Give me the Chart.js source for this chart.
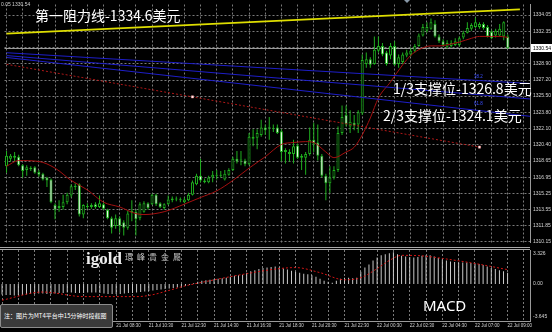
<!DOCTYPE html>
<html>
<head>
<meta charset="utf-8">
<script src="https://cdn.jsdelivr.net/npm/chart.js@4.4.1/dist/chart.umd.min.js"></script>
<style>
html, body { margin: 0; padding: 0; background: #000; }
#wrap { position: relative; width: 552px; height: 332px; overflow: hidden; background: #000; }
canvas { position: absolute; left: 0; }
#main { top: 0; }
#macd { top: 250px; }
.sep { position: absolute; left: 0; width: 530px; height: 1px; background: #a8a8a8; }
.txt { position: absolute; color: #fff; white-space: nowrap; font-family: 'Noto Sans CJK SC', 'Noto Sans', sans-serif; line-height: 1; }
.big { font-size: 14px; }
#note { position: absolute; left: 0; top: 304px; width: 108px; height: 22px; background: #3a3a3a; border: 1px solid #8c8c8c; border-radius: 2px;
        color: #fff; font: 6px 'Noto Sans CJK SC', sans-serif; line-height: 22px; padding-left: 3px; box-sizing: content-box; white-space: nowrap; }
#shift { position: absolute; left: 404px; top: 0; width: 0; height: 0; border-left: 3px solid transparent; border-right: 3px solid transparent; border-top: 3px solid #8898a8; }
</style>
</head>
<body>
<div id="wrap">
  <canvas id="main" width="552" height="247"></canvas>
  <div class="sep" style="top:247px"></div>
  <div class="sep" style="top:249px"></div>
  <canvas id="macd" width="552" height="82"></canvas>

  <div id="shift"></div>
  <div class="txt" style="left:1px;top:1px;font:5px 'Liberation Sans';color:#d0d0d0">0.05 1330.54</div>
  <div class="txt big" style="left:35px;top:8px">第一阻力线-1334.6美元</div>
  <div class="txt big" style="left:393px;top:81px">1/3支撑位-1326.8美元</div>
  <div class="txt big" style="left:383px;top:108px">2/3支撑位-1324.1美元</div>
  <div class="txt" style="left:474px;top:74px;font:4.5px 'Liberation Sans';color:#3a4cff">38.2</div>
  <div class="txt" style="left:474px;top:101px;font:4.5px 'Liberation Sans';color:#3a4cff">61.8</div>
  <div class="txt" style="left:86px;top:249px;font:bold 17px 'Liberation Serif';color:#eeeeee">igold</div>
  <div class="txt" style="left:125px;top:253px;font-size:8px;color:#c4c4c4;letter-spacing:4px;font-family:'Noto Sans CJK TC'">環峰貴金屬</div>
  <div class="txt" style="left:423px;top:298px;font-size:15px;font-family:'Noto Sans'">MACD</div>
  <div id="note">注：图片为MT4平台中15分钟时段截图</div>
</div>

<script>
// time axis, one label every 8 bars (2 hours), first at bar 4
const timeLabels = ['21 Jul 02:30', '21 Jul 04:30', '21 Jul 06:30', '21 Jul 08:30', '21 Jul 10:30', '21 Jul 12:30',
  '21 Jul 14:30', '21 Jul 16:30', '21 Jul 18:30', '21 Jul 20:30', '21 Jul 22:30', '22 Jul 00:30',
  '22 Jul 02:30', '22 Jul 04:30', '22 Jul 07:00', '22 Jul 09:00'];

const priceTicks = [1310.15, 1311.85, 1313.55, 1315.25, 1316.95, 1318.65, 1320.40, 1322.10,
  1323.80, 1325.50, 1327.20, 1328.90, 1330.65, 1332.35, 1334.05];
const bid = 1330.54;

// 15 min candles
const open = [1318.1,1318.9,1319.0,1319.1,1318.2,1317.7,1317.8,1318.0,1317.5,1317.3,
  1316.9,1316.7,1314.0,1313.7,1313.8,1314.3,1315.0,1315.9,1316.2,1313.0,
  1313.8,1313.8,1314.1,1313.8,1314.1,1313.5,1312.6,1311.8,1312.6,1312.2,
  1311.6,1313.2,1313.3,1312.6,1313.3,1314.2,1314.1,1315.1,1314.2,1313.7,
  1314.1,1314.5,1314.6,1314.6,1314.3,1314.5,1315.1,1316.2,1317.1,1316.6,
  1316.4,1316.9,1317.1,1317.2,1316.7,1317.2,1317.7,1318.9,1318.8,1318.7,
  1318.3,1321.2,1321.1,1321.4,1322.2,1322.1,1322.1,1322.2,1321.8,1319.6,
  1319.6,1319.4,1320.3,1319.0,1319.0,1319.4,1320.9,1320.6,1319.2,1317.1,
  1316.3,1316.9,1317.7,1321.6,1323.5,1322.3,1322.7,1322.5,1323.7,1328.9,
  1329.4,1328.9,1330.3,1330.8,1330.1,1329.8,1330.8,1328.9,1329.1,1329.8,
  1329.9,1330.3,1330.8,1331.9,1332.4,1332.6,1333.1,1331.8,1331.3,1330.7,
  1330.8,1330.9,1330.9,1331.7,1332.2,1332.6,1332.8,1332.8,1333.1,1332.8,
  1332.3,1331.9,1331.9,1331.8,1331.8];
const close = [1319.2,1319.2,1319.2,1318.2,1317.6,1318.0,1317.9,1317.4,1317.2,1316.7,
  1316.6,1314.3,1313.5,1313.9,1314.3,1315.1,1316.0,1316.0,1313.0,1314.0,
  1313.9,1314.0,1313.8,1314.2,1313.6,1312.6,1311.6,1312.6,1311.8,1311.6,
  1313.1,1313.4,1312.5,1314.1,1314.2,1313.7,1315.1,1314.1,1313.8,1314.1,
  1314.6,1314.7,1314.7,1314.5,1314.6,1315.1,1316.4,1317.1,1316.6,1316.4,
  1316.9,1317.2,1317.2,1317.1,1317.3,1317.7,1318.9,1318.6,1318.7,1318.3,
  1321.2,1321.0,1321.6,1322.2,1321.9,1322.2,1322.0,1321.6,1319.6,1319.8,
  1319.4,1320.2,1319.0,1319.2,1319.4,1320.9,1320.5,1319.2,1317.1,1316.3,
  1316.9,1317.7,1321.6,1323.3,1322.5,1322.8,1322.4,1323.8,1329.3,1329.4,
  1328.8,1330.4,1330.8,1329.9,1328.9,1330.8,1328.8,1329.6,1329.9,1330.1,
  1330.3,1330.8,1331.9,1332.8,1332.8,1333.3,1331.8,1331.3,1330.9,1331.1,
  1331.1,1331.3,1331.6,1332.2,1332.7,1333.0,1333.3,1333.1,1332.7,1331.8,
  1331.6,1332.4,1332.6,1333.3,1330.54];
const high = [1319.7,1319.4,1319.6,1319.3,1318.3,1318.2,1318.1,1318.1,1317.7,1317.4,
  1317.0,1316.8,1314.2,1314.5,1315.1,1315.3,1316.2,1316.3,1316.3,1314.1,
  1314.2,1314.2,1314.3,1315.0,1314.3,1313.6,1312.8,1313.0,1312.8,1312.4,
  1313.4,1314.5,1313.5,1314.3,1314.4,1314.3,1315.2,1315.2,1314.3,1314.2,
  1315.0,1314.9,1314.9,1314.8,1314.8,1315.3,1316.6,1317.3,1318.9,1316.8,
  1317.1,1317.6,1317.7,1317.6,1317.7,1317.9,1319.1,1319.7,1319.7,1318.9,
  1321.6,1322.0,1322.0,1323.0,1322.5,1323.3,1322.5,1322.5,1322.0,1320.0,
  1319.9,1320.9,1320.5,1319.4,1319.6,1322.2,1322.7,1322.5,1319.4,1317.3,
  1318.1,1318.1,1322.3,1324.5,1324.5,1324.0,1323.5,1324.0,1329.9,1330.1,
  1329.6,1331.8,1331.8,1331.1,1330.3,1331.1,1331.3,1329.9,1330.1,1330.4,
  1330.6,1331.0,1332.1,1333.1,1333.3,1333.7,1333.5,1332.0,1331.5,1331.4,
  1331.4,1331.6,1331.8,1332.4,1333.3,1333.2,1333.8,1333.3,1333.3,1333.0,
  1332.5,1332.6,1333.1,1333.4,1332.0];
const low = [1317.4,1318.6,1318.6,1318.1,1316.9,1317.1,1317.6,1317.3,1317.0,1316.6,
  1315.9,1314.2,1312.5,1313.3,1313.5,1314.1,1314.8,1315.6,1312.8,1312.6,
  1313.6,1313.6,1313.6,1313.7,1313.5,1312.5,1311.0,1311.5,1311.1,1310.8,
  1311.4,1312.3,1310.8,1312.4,1313.2,1313.5,1314.0,1313.9,1313.7,1313.5,
  1314.0,1314.3,1314.4,1314.3,1314.2,1314.4,1315.0,1316.1,1316.4,1316.3,
  1316.3,1316.4,1316.7,1316.9,1316.6,1317.1,1317.6,1318.4,1318.2,1318.1,
  1318.2,1320.2,1319.9,1321.2,1321.4,1320.9,1321.7,1321.5,1318.6,1318.4,
  1318.6,1318.4,1318.9,1317.7,1317.2,1319.2,1319.6,1318.7,1316.9,1314.5,
  1315.3,1316.7,1317.5,1321.4,1322.3,1321.6,1321.9,1321.6,1323.5,1328.5,
  1328.5,1328.8,1330.1,1329.7,1328.7,1329.4,1328.7,1328.5,1328.9,1329.6,
  1329.7,1330.1,1330.7,1331.8,1332.2,1332.5,1331.7,1331.1,1330.7,1330.5,
  1330.6,1330.8,1330.7,1331.5,1332.1,1332.4,1332.7,1332.6,1332.5,1331.7,
  1331.5,1331.7,1331.8,1331.4,1330.5];

// moving average read at some bars
const maIdx = [0,3,8,12,16,20,24,28,32,34,39,44,48,52,56,60,64,68,71,74,
  76,79,81,84,86,88,90,92,95,98,100,102,105,107,110,112,115,117,120,122,124];
const maVal = [1318.1,1318.7,1318.6,1317.9,1316.6,1315.6,1314.3,1313.8,1313.1,1313.0,
  1313.3,1314.1,1314.8,1315.5,1316.6,1317.9,1319.1,1320.4,1320.6,1320.7,
  1320.6,1319.6,1319.0,1319.6,1320.1,1321.4,1323.2,1325.3,1327.0,1328.8,
  1329.8,1330.4,1330.8,1330.8,1331.0,1331.2,1331.6,1331.8,1331.8,1331.8,1331.7];

// drawn lines (bar index, price)
const resistIdx = [0, 127], resistVal = [1332.1, 1334.66];
const fanIdx = [0, 129.5];
const fan1 = [1330.08, 1326.83], fan2 = [1329.78, 1325.20], fan3 = [1329.58, 1323.37];
const trendIdx = [0, 46, 117], trendVal = [1328.86, 1325.42, 1320.12];

// MACD
const macdHist = [-1.05,-1.1,-1.1,-1.15,-1.1,-1.1,-1.05,-1.0,-1.0,-0.95,
  -0.95,-1.0,-1.0,-0.95,-0.9,-0.9,-0.85,-0.85,-0.9,-0.9,
  -0.9,-0.85,-0.85,-0.85,-0.9,-0.95,-1.0,-1.0,-1.0,-1.0,
  -0.95,-0.9,-0.9,-0.85,-0.8,-0.75,-0.7,-0.65,-0.6,-0.55,
  -0.5,-0.45,-0.4,-0.35,-0.3,-0.2,-0.1,0.05,0.2,0.3,
  0.35,0.4,0.45,0.5,0.55,0.6,0.7,0.8,0.85,0.9,
  1.1,1.25,1.35,1.45,1.55,1.6,1.65,1.7,1.6,1.5,
  1.4,1.3,1.2,1.1,1.0,0.95,0.85,0.7,0.5,0.3,
  0.2,0.1,0.3,0.5,0.6,0.6,0.55,0.6,1.2,1.6,
  1.9,2.3,2.6,2.8,2.9,3.0,3.1,2.9,2.75,2.7,
  2.65,2.6,2.65,2.75,2.8,2.8,2.7,2.55,2.4,2.3,
  2.2,2.15,2.1,2.1,2.1,2.05,2.0,1.95,1.85,1.7,
  1.55,1.45,1.35,1.25,1.1];
const sigIdx = [0,10,20,33,46,60,68,72,78,84,88,92,95,98,103,108,116,124];
const sigVal = [-1.6,-0.8,-1.25,-1.25,-0.1,1.0,1.5,1.6,1.1,0.4,0.6,1.5,2.3,2.8,2.75,2.5,2.0,1.4];
const macdTicks = [3.326, 0, -3.645];

const green = '#1fb01f';
const gridCol = '#7a7a7a';
const gridIdx = [];
for (let i = 0; i <= 128; i += 4) gridIdx.push(i);

const pts = (xs, ys) => xs.map((x, i) => ({x, y: ys[i]}));

const xBase = {
  type: 'linear', min: -0.5, max: 129.5, offset: false,
  afterBuildTicks: s => { s.ticks = gridIdx.map(v => ({value: v})); },
  grid: {color: gridCol, offset: false, drawTicks: false},
  border: {display: false, dash: [2, 2]}
};

const bidPlugin = {
  id: 'bid',
  beforeDatasetsDraw(chart) {
    const {ctx, chartArea} = chart;
    const y = Math.round(chart.scales.y.getPixelForValue(bid)) + 0.5;
    ctx.save();
    ctx.strokeStyle = '#9a9a9a';
    ctx.lineWidth = 1;
    ctx.beginPath(); ctx.moveTo(chartArea.left, y); ctx.lineTo(chartArea.right, y); ctx.stroke();
    ctx.restore();
  },
  afterDraw(chart) {
    const {ctx, chartArea} = chart;
    const y = Math.round(chart.scales.y.getPixelForValue(bid));
    ctx.save();
    ctx.fillStyle = '#ffffff';
    ctx.fillRect(chartArea.right + 1, y - 4, 21, 8);
    ctx.fillStyle = '#000';
    ctx.font = '5px "Liberation Sans"';
    ctx.textBaseline = 'middle';
    ctx.fillText(bid.toFixed(2), chartArea.right + 3, y + 0.5);
    ctx.restore();
  }
};

new Chart(document.getElementById('main'), {
  type: 'bar',
  data: {
    datasets: [
      {type: 'line', data: pts(resistIdx, resistVal), borderColor: '#dede00', borderWidth: 1.6, pointRadius: 0, order: 0},
      {type: 'line', data: pts(fanIdx, fan1), borderColor: '#1e1ec8', borderWidth: 1, pointRadius: 0, order: 0},
      {type: 'line', data: pts(fanIdx, fan2), borderColor: '#1e1ec8', borderWidth: 1, pointRadius: 0, order: 0},
      {type: 'line', data: pts(fanIdx, fan3), borderColor: '#1e1ec8', borderWidth: 1, pointRadius: 0, order: 0},
      {type: 'line', data: pts(trendIdx, trendVal), borderColor: '#b01818', borderWidth: 1, borderDash: [2, 2],
        pointRadius: [0, 1.5, 1.5], pointStyle: 'rect', pointBackgroundColor: '#ffffff', pointBorderColor: '#ff9090', pointBorderWidth: 0.5, order: 0},
      {type: 'line', data: pts(maIdx, maVal), borderColor: '#a51010', borderWidth: 1, pointRadius: 0,
        cubicInterpolationMode: 'monotone', order: 1},
      {type: 'bar', data: open.map((o, i) => ({x: i, y: [o, close[i]]})),
        backgroundColor: open.map((o, i) => close[i] >= o ? '#000000' : '#f2fff2'),
        borderColor: green, borderWidth: 1, borderSkipped: false, barThickness: 3,
        grouped: false, minBarLength: 1, inflateAmount: 0, order: 2},
      {type: 'bar', data: high.map((h, i) => ({x: i, y: [low[i], h]})),
        backgroundColor: green, barThickness: 1, grouped: false, inflateAmount: 0, order: 3}
    ]
  },
  options: {
    responsive: false, animation: false, events: [],
    layout: {padding: 0},
    plugins: {legend: {display: false}, tooltip: {enabled: false}},
    scales: {
      x: Object.assign({}, xBase, {ticks: {display: false}}),
      y: {
        position: 'right', min: 1310.05, max: 1335.17,
        afterBuildTicks: s => { s.ticks = priceTicks.map(v => ({value: v})); },
        afterFit: s => { s.width = 22; s.paddingTop = 0; s.paddingBottom = 0; },
        ticks: {color: '#d4d4d4', font: {size: 5, family: 'Liberation Sans'}, padding: 3, callback: v => v.toFixed(2)},
        grid: {color: gridCol, drawTicks: false},
        border: {display: true, color: '#9a9a9a', dash: [2, 2]}
      }
    }
  },
  plugins: [bidPlugin]
});

const macdLabels = {
  id: 'macdLabels',
  afterDraw(chart) {
    const {ctx, chartArea} = chart;
    const y = chart.scales.y;
    ctx.save();
    ctx.fillStyle = '#d4d4d4';
    ctx.font = '5px "Liberation Sans"';
    ctx.textBaseline = 'middle';
    macdTicks.forEach(v => {
      let py = y.getPixelForValue(v);
      py = Math.min(Math.max(py, chartArea.top + 4), chartArea.bottom - 4);
      ctx.fillText(v === 0 ? '0.00' : String(v), chartArea.right + 3, py);
    });
    ctx.restore();
  }
};

new Chart(document.getElementById('macd'), {
  type: 'bar',
  data: {
    datasets: [
      {type: 'line', data: pts(sigIdx, sigVal), borderColor: '#d41414', borderWidth: 1, borderDash: [2, 2],
        pointRadius: 0, cubicInterpolationMode: 'monotone', order: 0},
      {type: 'bar', data: macdHist.map((v, i) => ({x: i, y: v})), backgroundColor: '#c8c8c8',
        barThickness: 1, grouped: false, inflateAmount: 0, order: 1}
    ]
  },
  options: {
    responsive: false, animation: false, events: [],
    layout: {padding: 0},
    plugins: {legend: {display: false}, tooltip: {enabled: false}},
    scales: {
      x: Object.assign({}, xBase, {
        afterFit: s => { s.height = 11; s.paddingLeft = 0; s.paddingRight = 0; },
        ticks: {display: true, autoSkip: false, maxRotation: 0, minRotation: 0, align: 'start', padding: 2,
          color: '#d4d4d4', font: {size: 4.5, family: 'Liberation Sans'},
          callback: v => ((v - 4) % 8 === 0 ? timeLabels[(v - 4) / 8] : '')},
        border: {display: true, color: '#9a9a9a', dash: [2, 2]}
      }),
      y: {
        position: 'right', min: -3.645, max: 3.326,
        afterFit: s => { s.width = 22; s.paddingTop = 0; s.paddingBottom = 0; },
        ticks: {display: false},
        grid: {display: false},
        border: {display: true, color: '#9a9a9a'}
      }
    }
  },
  plugins: [macdLabels]
});
</script>
</body>
</html>
